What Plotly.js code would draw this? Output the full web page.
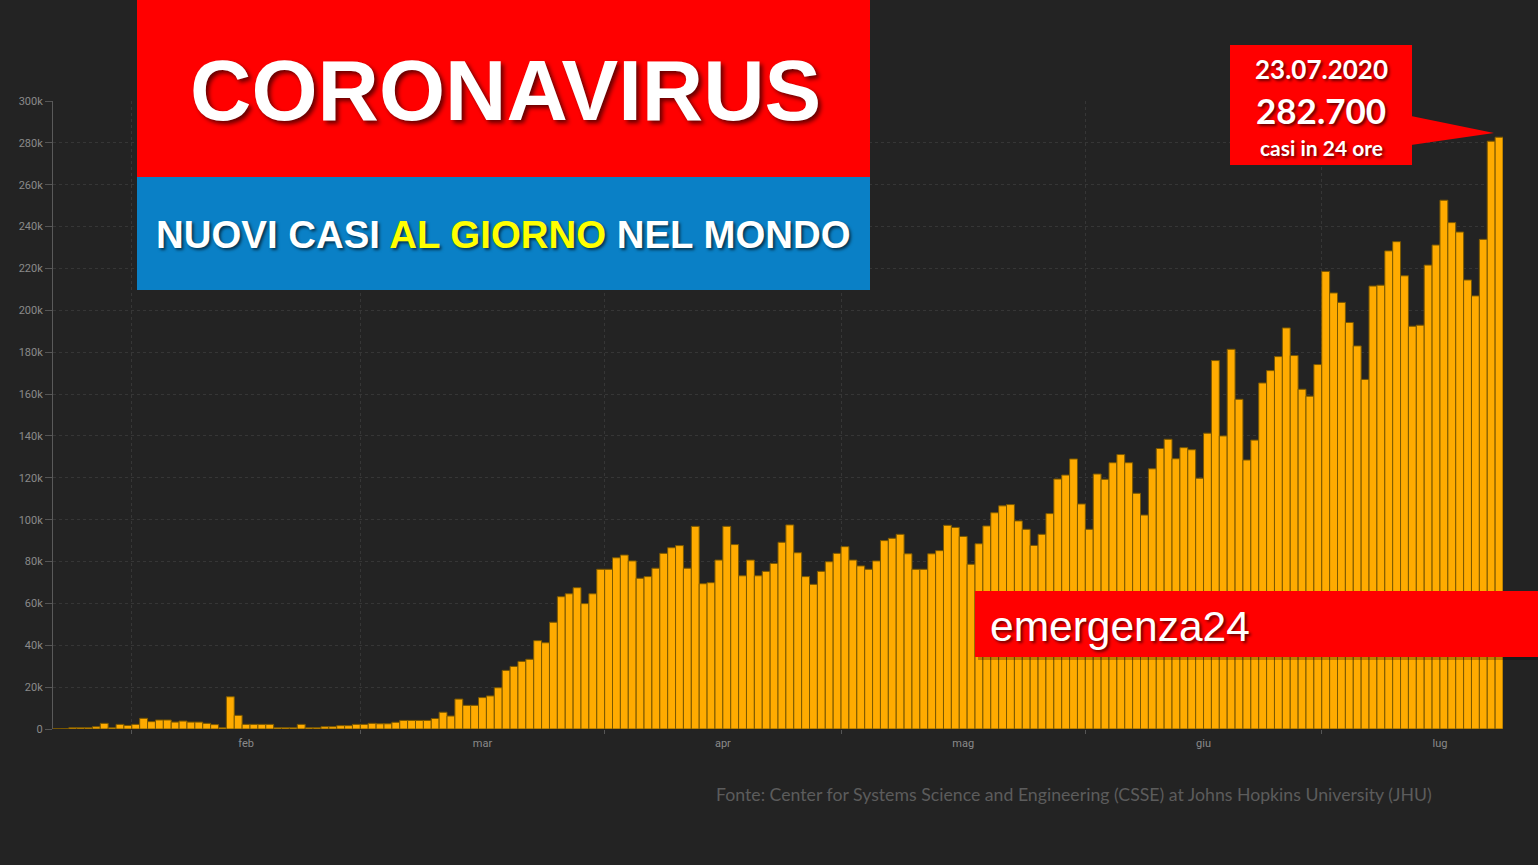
<!DOCTYPE html>
<html>
<head>
<meta charset="utf-8">
<script src="https://cdn.plot.ly/plotly-3.0.1.min.js"></script>
<style>
html,body{margin:0;padding:0;background:#232323;overflow:hidden;}
#chart{width:1538px;height:865px;}
</style>
</head>
<body>
<div id="chart"></div>
<script>
// ---------------- DATA ----------------
const startDate = [2020, 0, 22]; // 22 Jan 2020, first bar
// New daily cases worldwide, thousands (22 Jan - 23 Jul 2020)
const casesJan = [0.1, 0.2, 0.6, 0.6, 0.6, 1.1, 2.7, 0.6, 2.2, 1.7];
const casesFeb = [2.2, 5.1, 3.5, 4.3, 4.3, 3.3, 3.8, 3.3, 3.3, 2.7,
                  2.1, 0.6, 15.4, 6.5, 2.2, 2.2, 2.2, 2.2, 0.6, 0.6,
                  0.6, 2.2, 0.6, 0.6, 1.1, 1.1, 1.6, 1.6, 2.2];
const casesMar = [2.2, 2.7, 2.5, 2.5, 3.2, 4.1, 4.1, 4.1, 4.1, 5.0,
                  8.0, 6.2, 14.3, 11.3, 11.3, 15.0, 15.8, 19.7, 28.0, 29.9,
                  32.3, 33.3, 42.2, 41.2, 51.0, 63.2, 64.6, 67.5, 59.9, 64.6, 76.3];
const casesApr = [76.3, 81.8, 83.1, 80.3, 72.0, 72.8, 76.8, 83.9, 86.6, 87.6,
                  76.8, 96.8, 69.4, 69.9, 80.7, 96.8, 88.1, 73.2, 80.7, 73.2,
                  75.3, 79.1, 89.2, 97.5, 84.2, 72.8, 69.1, 75.3, 79.9, 83.9];
const casesMay = [87.1, 80.7, 77.9, 76.3, 80.3, 90.0, 91.1, 93.0, 83.7, 76.3,
                  76.3, 83.7, 85.2, 97.3, 96.3, 92.0, 78.7, 88.5, 97.0, 103.3,
                  106.6, 107.2, 99.4, 95.4, 87.7, 93.0, 102.9, 119.4, 121.3, 129.0, 107.5];
const casesJun = [95.4, 121.8, 119.3, 127.2, 131.1, 127.2, 112.6, 102.2, 124.3, 134.0,
                  138.4, 129.1, 134.4, 133.4, 119.8, 141.3, 176.0, 140.0, 181.4, 157.5,
                  128.5, 138.0, 165.3, 171.2, 177.9, 191.6, 178.4, 162.3, 159.0, 174.1];
const casesJul = [218.6, 208.3, 203.8, 194.2, 183.0, 167.0, 211.6, 212.0, 228.4, 232.8,
                  216.5, 192.4, 192.9, 221.6, 231.2, 252.6, 241.9, 237.4, 214.5, 206.9,
                  233.9, 280.8, 282.7];

const monthShort = ['gen','feb','mar','apr','mag','giu','lug','ago','set','ott','nov','dic'];
const monthLong = ['gennaio','febbraio','marzo','aprile','maggio','giugno','luglio','agosto','settembre','ottobre','novembre','dicembre'];
const yTickValues = [0,20,40,60,80,100,120,140,160,180,200,220,240,260,280,300];
const yTickLabels = ['0','20k','40k','60k','80k','100k','120k','140k','160k','180k','200k','220k','240k','260k','280k','300k'];

const titleText = 'CORONAVIRUS';
const subtitleParts = ['NUOVI CASI ', 'AL GIORNO', ' NEL MONDO'];
const calloutLines = ['23.07.2020', '282.700', 'casi in 24 ore'];
const brandText = 'emergenza24';
const sourceText = 'Fonte: Center for Systems Science and Engineering (CSSE) at Johns Hopkins University (JHU)';

// ---------------- BUILD ----------------
const cases = [].concat(casesJan, casesFeb, casesMar, casesApr, casesMay, casesJun, casesJul);
const dates = cases.map((v, i) =>
  new Date(Date.UTC(startDate[0], startDate[1], startDate[2] + i)).toISOString().slice(0, 10));
const lastDate = new Date(Date.UTC(startDate[0], startDate[1], startDate[2] + cases.length)).toISOString().slice(0, 10);

Plotly.register({
  moduleType: 'locale',
  name: 'it',
  dictionary: {},
  format: {
    days: ['domenica','lunedì','martedì','mercoledì','giovedì','venerdì','sabato'],
    shortDays: ['dom','lun','mar','mer','gio','ven','sab'],
    months: monthLong,
    shortMonths: monthShort,
    date: '%d/%m/%Y',
    decimal: ',',
    thousands: '.'
  }
});

// plot-area pixel box (for overlay decorations)
const L = 53, R = 1503, T = 101, B = 729;
const px = x => (x - L) / (R - L);
const py = y => (B - y) / (B - T);

const trace = {
  type: 'bar',
  x: dates,
  y: cases,
  xperiod: 86400000,
  xperiodalignment: 'middle',
  marker: { color: '#FFAB00', line: { color: '#7a5800', width: 1 } },
  hoverinfo: 'x+y'
};

const shadow = '2px 2px 3px rgba(0,0,0,0.6)';

const layout = {
  width: 1538,
  height: 865,
  paper_bgcolor: '#232323',
  plot_bgcolor: '#232323',
  margin: { l: L, r: 1538 - R, t: T, b: 865 - B, pad: 0 },
  showlegend: false,
  bargap: 0,
  font: { family: 'Roboto, "Open Sans", sans-serif', color: '#8a8a8a', size: 11 },
  xaxis: {
    type: 'date',
    range: [dates[0], lastDate],
    tickmode: 'linear',
    tick0: '2020-01-01',
    dtick: 'M1',
    ticklabelmode: 'period',
    tickformat: '%b',
    ticks: 'outside',
    ticklen: 4,
    tickcolor: '#555555',
    showgrid: true,
    gridcolor: '#363636',
    griddash: '3px,3px',
    gridwidth: 1,
    showline: false,
    zeroline: false,
    tickfont: { size: 11, color: '#8a8a8a' },
    fixedrange: true
  },
  yaxis: {
    range: [0, 300],
    tickmode: 'array',
    tickvals: yTickValues,
    ticktext: yTickLabels,
    ticks: 'outside',
    ticklen: 7,
    tickcolor: '#555555',
    showline: true,
    linecolor: '#5a5a5a',
    linewidth: 1,
    showgrid: true,
    gridcolor: '#363636',
    griddash: '3px,3px',
    zeroline: false,
    tickfont: { size: 11, color: '#8a8a8a' },
    fixedrange: true
  },
  shapes: [
    // title red box
    { type: 'rect', xref: 'paper', yref: 'paper', x0: px(137), x1: px(870), y0: py(0), y1: py(177),
      fillcolor: '#FF0000', line: { width: 0 }, layer: 'above' },
    // subtitle blue box
    { type: 'rect', xref: 'paper', yref: 'paper', x0: px(137), x1: px(870), y0: py(177), y1: py(290),
      fillcolor: '#0A80C6', line: { width: 0 }, layer: 'above' },
    // callout box
    { type: 'rect', xref: 'paper', yref: 'paper', x0: px(1230), x1: px(1412), y0: py(45), y1: py(165),
      fillcolor: '#FF0000', line: { width: 0 }, layer: 'above' },
    // callout pointer
    { type: 'path', xref: 'paper', yref: 'paper',
      path: 'M ' + px(1411) + ' ' + py(116) + ' L ' + px(1494) + ' ' + py(133) + ' L ' + px(1411) + ' ' + py(145) + ' Z',
      fillcolor: '#FF0000', line: { width: 0 }, layer: 'above' },
    // brand box shadow
    { type: 'rect', xref: 'paper', yref: 'paper', x0: px(978), x1: px(1541), y0: py(594), y1: py(660),
      fillcolor: 'rgba(0,0,0,0.25)', line: { width: 0 }, layer: 'above' },
    // brand box
    { type: 'rect', xref: 'paper', yref: 'paper', x0: px(975), x1: px(1540), y0: py(591), y1: py(657),
      fillcolor: '#FF0000', line: { width: 0 }, layer: 'above' }
  ],
  annotations: [
    { xref: 'paper', yref: 'paper', x: px(505), y: py(91), xanchor: 'center', yanchor: 'middle',
      text: titleText, showarrow: false,
      font: { family: '"Liberation Sans", Arial, sans-serif', size: 85, color: '#FFFFFF', weight: 'bold', shadow: '3px 3px 4px rgba(0,0,0,0.6)' } },
    { xref: 'paper', yref: 'paper', x: px(504), y: py(234), xanchor: 'center', yanchor: 'middle',
      text: subtitleParts[0] + '<span style="color:#FFFF00">' + subtitleParts[1] + '</span>' + subtitleParts[2],
      showarrow: false,
      font: { family: '"Liberation Sans", Arial, sans-serif', size: 38.4, color: '#FFFFFF', weight: 'bold', shadow: shadow } },
    { xref: 'paper', yref: 'paper', x: px(1321), y: py(69), xanchor: 'center', yanchor: 'middle',
      text: calloutLines[0], showarrow: false,
      font: { family: 'Lato, "Open Sans", sans-serif', size: 26, color: '#FFFFFF', weight: 'bold', shadow: shadow } },
    { xref: 'paper', yref: 'paper', x: px(1321), y: py(110), xanchor: 'center', yanchor: 'middle',
      text: calloutLines[1], showarrow: false,
      font: { family: 'Lato, "Open Sans", sans-serif', size: 35, color: '#FFFFFF', weight: 'bold', shadow: shadow } },
    { xref: 'paper', yref: 'paper', x: px(1321), y: py(147), xanchor: 'center', yanchor: 'middle',
      text: calloutLines[2], showarrow: false,
      font: { family: 'Lato, "Open Sans", sans-serif', size: 21, color: '#FFFFFF', weight: 'bold', shadow: shadow } },
    { xref: 'paper', yref: 'paper', x: px(988), y: py(626), xanchor: 'left', yanchor: 'middle',
      text: brandText, showarrow: false,
      font: { family: '"Liberation Sans", Arial, sans-serif', size: 42.5, color: '#FFFFFF', shadow: shadow } },
    { xref: 'paper', yref: 'paper', x: px(1074), y: py(794), xanchor: 'center', yanchor: 'middle',
      text: sourceText, showarrow: false,
      font: { family: 'Lato, "Open Sans", sans-serif', size: 17.7, color: '#5c5c5c' } }
  ]
};

Plotly.newPlot('chart', [trace], layout, { displayModeBar: false, staticPlot: true, locale: 'it' });
</script>
</body>
</html>
